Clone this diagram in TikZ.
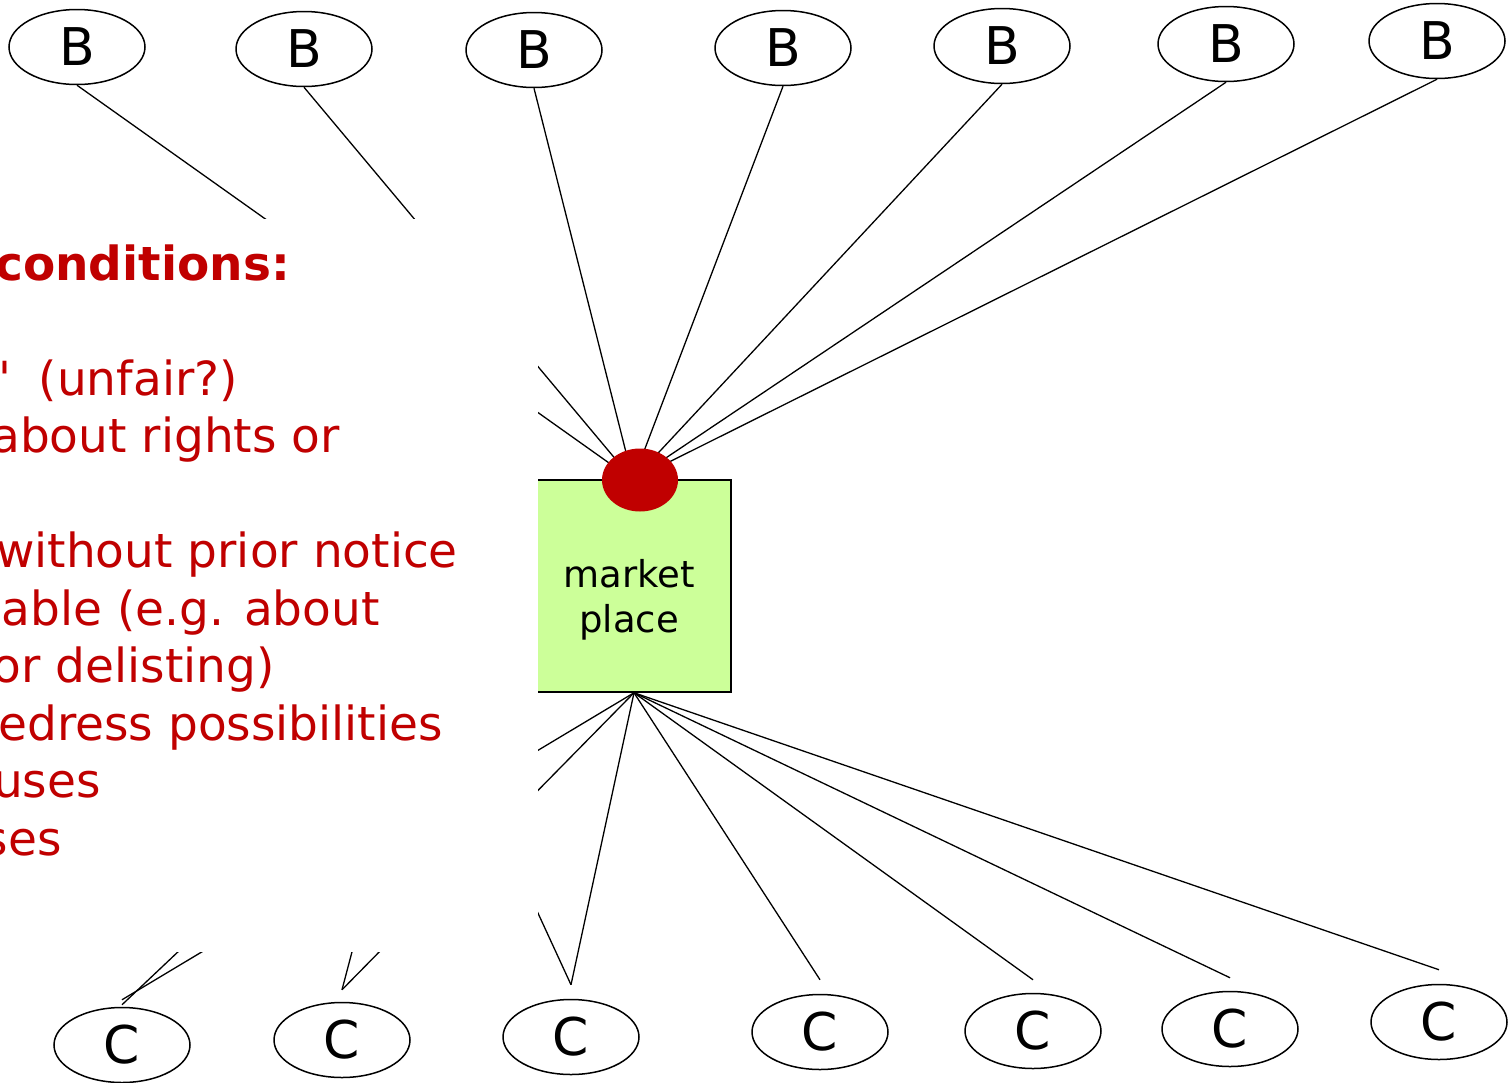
\documentclass[tikz,border=0pt]{standalone}
\usepackage{fontspec}
\setmainfont{DejaVu Sans}
\usetikzlibrary{shapes.geometric,backgrounds}
\definecolor{mpred}{HTML}{C00000}
\definecolor{mpgreen}{HTML}{CCFF99}
\begin{document}
\begin{tikzpicture}[x=1pt,y=-1pt,
  party/.style={ellipse,draw,line width=1.5pt,minimum width=136pt,minimum height=75pt,
    inner sep=0pt,font=\fontsize{52}{60}\selectfont},
  link/.style={line width=1.3pt},
  note/.style={anchor=base east,inner sep=0pt,text=mpred,font=\fontsize{47}{57.5}\selectfont},
]
\useasboundingbox (0,0) rectangle (1512,1082);

% sellers along the top
\node[party] (b1) at (77,47) {B};
\node[party] (b2) at (304,49) {B};
\node[party] (b3) at (534,50) {B};
\node[party] (b4) at (783,48) {B};
\node[party] (b5) at (1002,46) {B};
\node[party] (b6) at (1226,44) {B};
\node[party] (b7) at (1437,41) {B};

% customers along the bottom
\node[party] (c1) at (122,1045) {C};
\node[party] (c2) at (342,1040) {C};
\node[party] (c3) at (571,1037) {C};
\node[party] (c4) at (820,1032) {C};
\node[party] (c5) at (1033,1031) {C};
\node[party] (c6) at (1230,1029) {C};
\node[party] (c7) at (1439,1022) {C};

% the platform
\node[draw,line width=1.5pt,fill=mpgreen,minimum width=194pt,minimum height=212pt,inner sep=0pt]
  (mp) at (634,586) {};
\node[align=center,inner sep=0pt,font=\fontsize{37}{45}\selectfont] (mptext) at (629,600) {market\\place};
\node[ellipse,fill=mpred,minimum width=76pt,minimum height=63pt,inner sep=0pt] (dot) at (640,480) {};

% far ends of the lines running into the text panel
\coordinate (h1) at (290,846);
\coordinate (h2) at (372,876);
\coordinate (h3) at (502,835);

\begin{pgfonlayer}{background}
  \foreach \i in {1,...,7} \draw[link] (b\i.south) -- ([xshift=-7pt]dot.center);
  \foreach \i/\g in {1/7,2/12,3/14,4/14,5/13,6/13,7/14}
    \draw[link] (mp.south) -- ([yshift=\g pt]c\i.north);
  \draw[link] (h1) -- ([yshift=2pt]c1.north);
  \draw[link] (h2) -- ([yshift=12pt]c2.north);
  \draw[link] (h3) -- ([yshift=14pt]c3.north);
\end{pgfonlayer}

% text panel laid over the lines
\fill[white] (-10,219) rectangle (537.8,952);

\node[note,font=\bfseries\fontsize{47}{57.5}\selectfont] (t0) at (290,280) {conditions:};
\node[note] (t2) at (238,395) {\textquotesingle\hspace{27pt}(unfair?)};
\node[note] (t3) at (340,452.5) {about rights or};
\node[note] (t5) at (458,567.5) {without prior notice};
\node[note] (t6) at (380,625) {able (e.g. about};
\node[note] (t7) at (275,682.5) {or delisting)};
\node[note] (t8) at (443,740) {edress possibilities};
\node[note] (t9) at (101,797.5) {uses};
\node[note] (t10) at (62,855) {ses};
\end{tikzpicture}
\end{document}
